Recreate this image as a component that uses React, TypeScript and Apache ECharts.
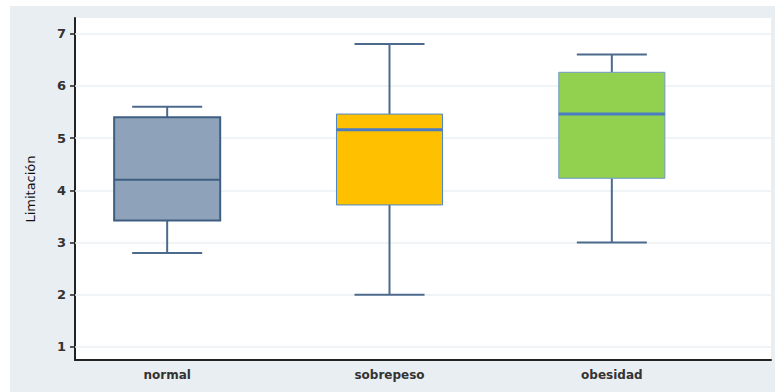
import React, { useEffect, useRef } from "react";
import * as echarts from "echarts";

// Groups and their five-number summaries (Limitación score)
const categories = ["normal", "sobrepeso", "obesidad"];
const whiskerLow = [2.8, 2.0, 3.0];
const q1 = [3.42, 3.72, 4.23];
const median = [4.2, 5.16, 5.46];
const q3 = [5.4, 5.46, 6.26];
const whiskerHigh = [5.6, 6.8, 6.6];

const yTicks = [1, 2, 3, 4, 5, 6, 7];

const boxFill = ["#8ea3ba", "#ffc000", "#92d050"];
const boxBorder = ["#3f5f82", "#4a86c8", "#6f9ac8"];
const medianColor = ["#3f5f82", "#4a7cc4", "#4a7cc4"];
const medianWidth = [2, 3, 3];
const whiskerColor = "#4c6a8c";

const Y_MIN = 0.75;
const Y_MAX = 7.3;

export default function App() {
  const ref = useRef<HTMLDivElement>(null);

  useEffect(() => {
    if (!ref.current) return;
    const chart = echarts.init(ref.current, null, { renderer: "svg" });

    const data = categories.map((_, i) => [
      i,
      whiskerLow[i],
      q1[i],
      median[i],
      q3[i],
      whiskerHigh[i],
    ]);

    const option: any = {
      animation: false,
      backgroundColor: "#ffffff",
      graphic: [
        {
          type: "rect",
          left: 10,
          top: 6,
          shape: { width: 765, height: 386 },
          style: { fill: "#e9eef2" },
          z: -10,
        },
      ],
      grid: [
        {
          left: 75,
          right: 4,
          top: 18,
          bottom: 32,
          show: true,
          backgroundColor: "#ffffff",
          borderWidth: 0,
        },
        {
          left: 56,
          right: 52,
          top: 18,
          bottom: 32,
        },
      ],
      xAxis: [
        {
          type: "value",
          gridIndex: 0,
          min: 0,
          max: 1,
          axisLine: { show: true, lineStyle: { color: "#222", width: 2 } },
          axisTick: { show: false },
          axisLabel: { show: false },
          splitLine: { show: false },
        },
        {
          type: "category",
          gridIndex: 1,
          data: categories,
          axisLine: { show: false },
          axisTick: { show: false },
          axisLabel: {
            color: "#333",
            fontFamily: "DejaVu Sans",
            fontWeight: "bold",
            fontSize: 12,
            margin: 9,
          },
        },
      ],
      yAxis: [
        {
          type: "value",
          gridIndex: 0,
          min: Y_MIN,
          max: Y_MAX,
          name: "Limitación",
          nameLocation: "middle",
          nameRotate: 90,
          nameGap: 38,
          nameTextStyle: {
            color: "#111",
            fontFamily: "DejaVu Sans",
            fontSize: 13,
          },
          axisLine: { show: true, lineStyle: { color: "#222", width: 2 } },
          axisTick: {
            show: true,
            length: 5,
            lineStyle: { color: "#222", width: 1.5 },
            customValues: yTicks,
          },
          axisLabel: {
            color: "#333",
            fontFamily: "DejaVu Sans",
            fontWeight: "bold",
            fontSize: 13,
            margin: 9,
            customValues: yTicks,
          },
          splitLine: { show: false },
        },
        {
          type: "value",
          gridIndex: 1,
          min: Y_MIN,
          max: Y_MAX,
          show: false,
        },
      ],
      series: [
        {
          // faint horizontal gridlines at every integer tick
          type: "line",
          xAxisIndex: 0,
          yAxisIndex: 0,
          data: [],
          silent: true,
          markLine: {
            symbol: "none",
            silent: true,
            label: { show: false },
            lineStyle: { color: "#edf1f4", width: 1.5, type: "solid" },
            data: yTicks.map((v) => ({ yAxis: v })),
          },
          z: 1,
        },
        {
          type: "custom",
          xAxisIndex: 1,
          yAxisIndex: 1,
          data,
          z: 5,
          renderItem: (params: any, api: any) => {
            const i = api.value(0);
            const band = api.size([1, 0])[0];
            const boxW = band * 0.477;
            const capW = band * 0.315;
            const [cx, yLow] = api.coord([i, api.value(1)]);
            const yQ1 = api.coord([i, api.value(2)])[1];
            const yMed = api.coord([i, api.value(3)])[1];
            const yQ3 = api.coord([i, api.value(4)])[1];
            const yHigh = api.coord([i, api.value(5)])[1];
            const wStyle = { stroke: whiskerColor, lineWidth: 2, fill: "none" };
            return {
              type: "group",
              children: [
                {
                  type: "line",
                  shape: { x1: cx, y1: yHigh, x2: cx, y2: yQ3 },
                  style: wStyle,
                },
                {
                  type: "line",
                  shape: { x1: cx, y1: yQ1, x2: cx, y2: yLow },
                  style: wStyle,
                },
                {
                  type: "line",
                  shape: { x1: cx - capW / 2, y1: yHigh, x2: cx + capW / 2, y2: yHigh },
                  style: wStyle,
                },
                {
                  type: "line",
                  shape: { x1: cx - capW / 2, y1: yLow, x2: cx + capW / 2, y2: yLow },
                  style: wStyle,
                },
                {
                  type: "rect",
                  shape: { x: cx - boxW / 2, y: yQ3, width: boxW, height: yQ1 - yQ3 },
                  style: {
                    fill: boxFill[i],
                    stroke: boxBorder[i],
                    lineWidth: i === 0 ? 2 : 1,
                  },
                },
                {
                  type: "line",
                  shape: { x1: cx - boxW / 2, y1: yMed, x2: cx + boxW / 2, y2: yMed },
                  style: { stroke: medianColor[i], lineWidth: medianWidth[i] },
                },
              ],
            };
          },
        },
      ],
    };

    chart.setOption(option);
    return () => chart.dispose();
  }, []);

  return (
    <div
      ref={ref}
      style={{ position: "fixed", left: 0, top: 0, width: 775, height: 392 }}
    />
  );
}
